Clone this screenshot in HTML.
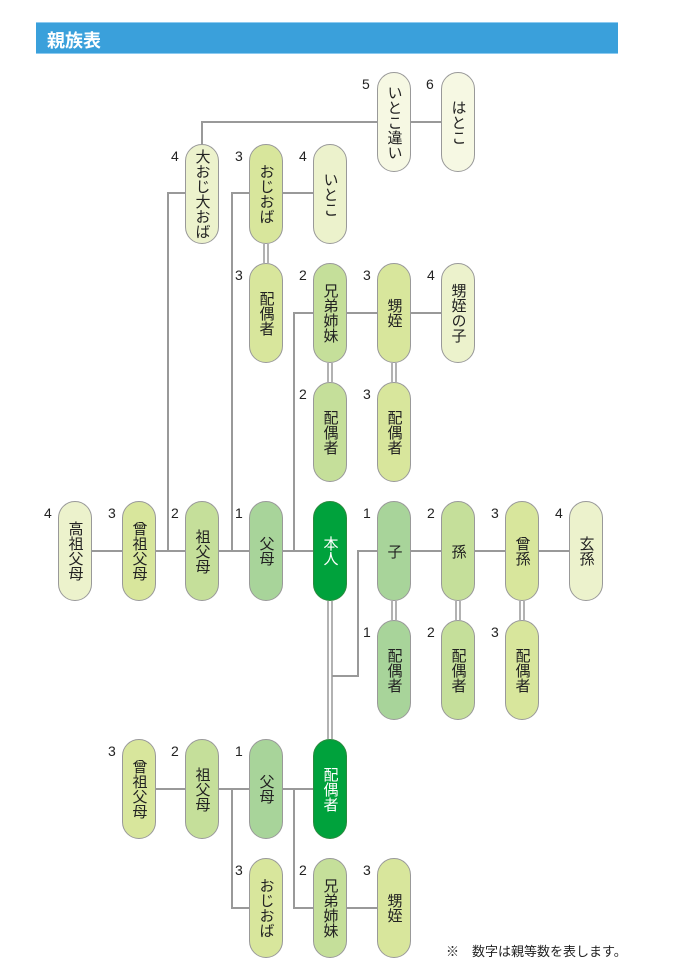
<!DOCTYPE html>
<html><head><meta charset="utf-8"><style>
body{margin:0;background:#fff;width:680px;height:962px;position:relative;overflow:hidden;font-family:"Liberation Sans","Noto Sans CJK JP",sans-serif;}
.hd{position:absolute;left:36px;top:22px;width:582px;height:32px;background:#3aa0db;border-top:1px solid #8ccaf0;border-bottom:1px solid #8ccaf0;box-sizing:border-box;}
.hd span{position:absolute;left:11px;top:4px;color:#fff;font-size:18px;font-weight:bold;}
.n{position:absolute;width:34px;height:100px;border:1px solid #999;border-radius:17px;box-sizing:border-box;display:flex;align-items:center;justify-content:center;}
.n span{writing-mode:vertical-rl;font-size:15px;color:#222;letter-spacing:0px;line-height:1;}
.w span{color:#fff}
.d{position:absolute;font-size:14px;color:#222;}
.c1{background:#a8d49a}.c2{background:#c5df9a}.c3{background:#d8e69c}.c4{background:#ecf2cc}.c5{background:#f6f8e3}.c0{background:#00a23c;border-color:#2b8a3e}
svg{position:absolute;left:0;top:0}
.note{position:absolute;left:446px;top:941px;font-size:13px;color:#222;}
</style></head><body>
<div class="hd"><span>親族表</span></div>
<svg width="680" height="962">
<g stroke="#999" stroke-width="2" fill="none">
<polyline points="202,144 202,122 458,122"/>
<polyline points="186,193 168,193 168,551"/>
<polyline points="249,193 232,193 232,551"/>
<line x1="266" y1="193" x2="330" y2="193"/>
<polyline points="313,313 294,313 294,551"/>
<line x1="330" y1="313" x2="458" y2="313"/>
<line x1="75" y1="551" x2="330" y2="551"/>
<line x1="394" y1="551" x2="586" y2="551"/>
<polyline points="377,551 358,551 358,676 332,676"/>
<line x1="139" y1="789" x2="330" y2="789"/>
<polyline points="232,789 232,908 266,908"/>
<polyline points="294,789 294,908 394,908"/>
</g>
<g stroke="#999" stroke-width="1.5">
<line x1="264" y1="244" x2="264" y2="263"/><line x1="268" y1="244" x2="268" y2="263"/>
<line x1="328" y1="363" x2="328" y2="382"/><line x1="332" y1="363" x2="332" y2="382"/>
<line x1="392" y1="363" x2="392" y2="382"/><line x1="396" y1="363" x2="396" y2="382"/>
<line x1="328" y1="601" x2="328" y2="739"/><line x1="332" y1="601" x2="332" y2="739"/>
<line x1="392" y1="601" x2="392" y2="620"/><line x1="396" y1="601" x2="396" y2="620"/>
<line x1="456" y1="601" x2="456" y2="620"/><line x1="460" y1="601" x2="460" y2="620"/>
<line x1="520" y1="601" x2="520" y2="620"/><line x1="524" y1="601" x2="524" y2="620"/>
</g>
</svg>

<div class="d" style="left:362px;top:76px">5</div><div class="n c5" style="left:377px;top:72px"><span>いとこ違い</span></div>
<div class="d" style="left:426px;top:76px">6</div><div class="n c5" style="left:441px;top:72px"><span>はとこ</span></div>
<div class="d" style="left:171px;top:148px">4</div><div class="n c4" style="left:185px;top:144px"><span>大おじ大おば</span></div>
<div class="d" style="left:235px;top:148px">3</div><div class="n c3" style="left:249px;top:144px"><span>おじおば</span></div>
<div class="d" style="left:299px;top:148px">4</div><div class="n c4" style="left:313px;top:144px"><span>いとこ</span></div>
<div class="d" style="left:235px;top:267px">3</div><div class="n c3" style="left:249px;top:263px"><span>配偶者</span></div>
<div class="d" style="left:299px;top:267px">2</div><div class="n c2" style="left:313px;top:263px"><span>兄弟姉妹</span></div>
<div class="d" style="left:363px;top:267px">3</div><div class="n c3" style="left:377px;top:263px"><span>甥姪</span></div>
<div class="d" style="left:427px;top:267px">4</div><div class="n c4" style="left:441px;top:263px"><span>甥姪の子</span></div>
<div class="d" style="left:299px;top:386px">2</div><div class="n c2" style="left:313px;top:382px"><span>配偶者</span></div>
<div class="d" style="left:363px;top:386px">3</div><div class="n c3" style="left:377px;top:382px"><span>配偶者</span></div>
<div class="d" style="left:44px;top:505px">4</div><div class="n c4" style="left:58px;top:501px"><span>高祖父母</span></div>
<div class="d" style="left:108px;top:505px">3</div><div class="n c3" style="left:122px;top:501px"><span>曾祖父母</span></div>
<div class="d" style="left:171px;top:505px">2</div><div class="n c2" style="left:185px;top:501px"><span>祖父母</span></div>
<div class="d" style="left:235px;top:505px">1</div><div class="n c1" style="left:249px;top:501px"><span>父母</span></div>
<div class="n c0 w" style="left:313px;top:501px"><span>本人</span></div>
<div class="d" style="left:363px;top:505px">1</div><div class="n c1" style="left:377px;top:501px"><span>子</span></div>
<div class="d" style="left:427px;top:505px">2</div><div class="n c2" style="left:441px;top:501px"><span>孫</span></div>
<div class="d" style="left:491px;top:505px">3</div><div class="n c3" style="left:505px;top:501px"><span>曾孫</span></div>
<div class="d" style="left:555px;top:505px">4</div><div class="n c4" style="left:569px;top:501px"><span>玄孫</span></div>
<div class="d" style="left:363px;top:624px">1</div><div class="n c1" style="left:377px;top:620px"><span>配偶者</span></div>
<div class="d" style="left:427px;top:624px">2</div><div class="n c2" style="left:441px;top:620px"><span>配偶者</span></div>
<div class="d" style="left:491px;top:624px">3</div><div class="n c3" style="left:505px;top:620px"><span>配偶者</span></div>
<div class="d" style="left:108px;top:743px">3</div><div class="n c3" style="left:122px;top:739px"><span>曾祖父母</span></div>
<div class="d" style="left:171px;top:743px">2</div><div class="n c2" style="left:185px;top:739px"><span>祖父母</span></div>
<div class="d" style="left:235px;top:743px">1</div><div class="n c1" style="left:249px;top:739px"><span>父母</span></div>
<div class="n c0 w" style="left:313px;top:739px"><span>配偶者</span></div>
<div class="d" style="left:235px;top:862px">3</div><div class="n c3" style="left:249px;top:858px"><span>おじおば</span></div>
<div class="d" style="left:299px;top:862px">2</div><div class="n c2" style="left:313px;top:858px"><span>兄弟姉妹</span></div>
<div class="d" style="left:363px;top:862px">3</div><div class="n c3" style="left:377px;top:858px"><span>甥姪</span></div>
<div class="note">※　数字は親等数を表します。</div>
</body></html>
